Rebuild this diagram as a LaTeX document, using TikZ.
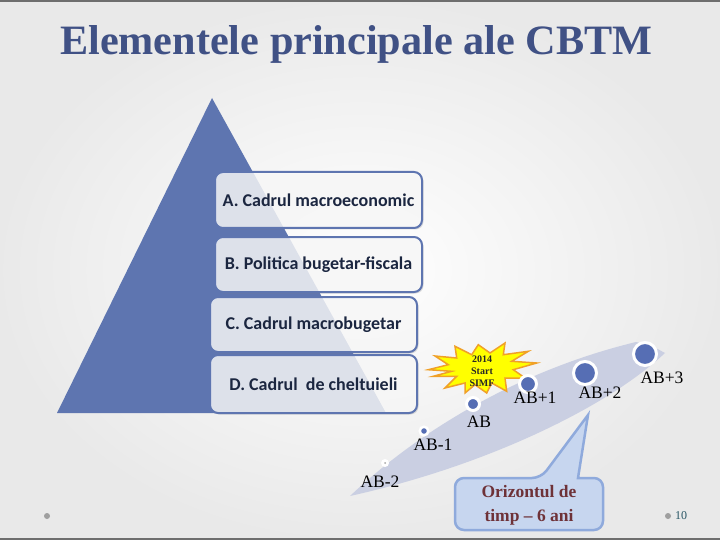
\documentclass[tikz,border=0pt]{standalone}
\usepackage{fontspec}
\setmainfont{Liberation Serif}
\newfontfamily\boxfont{Carlito}
\usetikzlibrary{shadows}
\definecolor{titleblue}{RGB}{64,81,133}
\definecolor{pyrblue}{RGB}{94,117,176}
\definecolor{boxtext}{RGB}{27,38,64}
\definecolor{bandcol}{RGB}{202,207,226}
\definecolor{dotblue}{RGB}{86,110,180}
\definecolor{burstfill}{RGB}{255,255,0}
\definecolor{burstline}{RGB}{240,160,40}
\definecolor{callfill}{RGB}{199,214,239}
\definecolor{callline}{RGB}{143,170,220}
\definecolor{calltext}{RGB}{110,50,56}
\definecolor{pagecol}{RGB}{40,85,100}
\definecolor{edgeline}{RGB}{110,110,110}
\begin{document}
\begin{tikzpicture}[x=1pt,y=-1pt,
  levelbox/.style={draw=pyrblue, line width=2pt, rounded corners=8pt, fill=white,
    fill opacity=0.78, text opacity=1, text=boxtext, inner sep=0pt,
    font=\boxfont\bfseries\fontsize{18}{20}\selectfont,
    drop shadow={opacity=0.25,shadow xshift=1.5pt,shadow yshift=-1.5pt}},
  tdot/.style={circle, fill=dotblue, draw=white, inner sep=0pt, minimum size=#1},
  ablabel/.style={font=\fontsize{17.5}{19}\selectfont, text=black, inner sep=0pt},
  footdot/.style={circle, fill=gray!75, inner sep=0pt, minimum size=6pt}
]
% background
\useasboundingbox (0,0) rectangle (720,540);
\shade[inner color=white, outer color=gray!17] (0,0) rectangle (720,540);
\draw[edgeline, line width=2pt] (0,1) -- (720,1);
\draw[edgeline, line width=2pt] (0,539) -- (720,539);

% title
\node[anchor=base west, inner sep=0pt, text=titleblue] (title) at (60,55)
  {\resizebox{592pt}{29pt}{\bfseries Elementele principale ale CBTM}};

% pyramid
\fill[pyrblue] (212,98) -- (386,413) -- (57,413) -- cycle;

% level boxes
\node[levelbox, minimum width=207pt, minimum height=56pt] (boxA) at (318.5,200) {A. Cadrul macroeconomic};
\node[levelbox, minimum width=207pt, minimum height=55pt] (boxB) at (318.5,264.5) {B. Politica bugetar-fiscala};
\node[levelbox, minimum width=207pt, minimum height=55pt] (boxC) at (313.5,324.5) {C. Cadrul macrobugetar};
\node[levelbox, minimum width=207pt, minimum height=58pt] (boxD) at (313.5,384) {D. Cadrul\ \ de cheltuieli};

% timeline band
\fill[bandcol] (350,496) .. controls (420,430) and (520,370) .. (636,342)
  -- (652,346) -- (665,353) .. controls (610,405) and (490,465) .. (350,496) -- cycle;

% starburst
\draw[fill=burstfill, draw=burstline, line width=1.5pt, line join=miter]
  (428.3,369.7) -- (448.3,364.7) -- (435,356) -- (456.7,358) -- (455,346.3)
  -- (471.7,354.7) -- (478.3,344.7) -- (490,353) -- (505,343) -- (503.3,354.7)
  -- (528.3,351.3) -- (511.7,361.3) -- (536.7,363) -- (513.3,369.7) -- (525,378)
  -- (505,378) -- (506.7,391.3) -- (491.7,383) -- (486.7,393) -- (475,384.7)
  -- (465,393) -- (465,383) -- (445,388) -- (456.7,376.3) -- (433.3,376.3)
  -- (451.7,371.3) -- cycle;
\node[align=center, inner sep=0pt, font=\bfseries\fontsize{10}{12}\selectfont,
  text=black!85] (burst) at (482,371) {2014\\Start\\SIMF};

% timeline dots
\node[circle, fill=white, inner sep=0pt, minimum size=8pt] (dm2) at (385,463) {};
\node[circle, fill=gray!70, inner sep=0pt, minimum size=2pt] (dm2c) at (385,463) {};
\node[tdot=8.5pt, line width=2.5pt] (dm1) at (424,431) {};
\node[tdot=13pt, line width=3pt] (d0) at (473,404) {};
\node[tdot=17pt, line width=3pt] (dp1) at (528,384) {};
\node[tdot=23pt, line width=3pt] (dp2) at (585,373) {};
\node[tdot=23pt, line width=3pt] (dp3) at (645,354) {};

% labels
\node[ablabel] (lm2) at (380,482) {AB-2};
\node[ablabel] (lm1) at (433,445) {AB-1};
\node[ablabel] (l0) at (479,422) {AB};
\node[ablabel] (lp1) at (535,398) {AB+1};
\node[ablabel] (lp2) at (600,393) {AB+2};
\node[ablabel] (lp3) at (662,378) {AB+3};

% callout
\draw[fill=callfill, draw=callline, line width=2.5pt]
  (455,504) [rounded corners=9pt] |- (541,478) [sharp corners] -- (588,415) -- (578,478)
  [rounded corners=9pt] -| (603,530) -| cycle;
\node[align=center, inner sep=0pt, text=calltext,
  font=\bfseries\fontsize{17.5}{24}\selectfont] (calltxt) at (529,505)
  {Orizontul de\\timp -- 6 ani};

% footer
\node[footdot] (fl) at (47,516) {};
\node[footdot] (fr) at (668,516) {};
\node[inner sep=0pt, text=pagecol, font=\fontsize{12}{13}\selectfont] (pnum) at (681,516) {10};
\end{tikzpicture}
\end{document}
